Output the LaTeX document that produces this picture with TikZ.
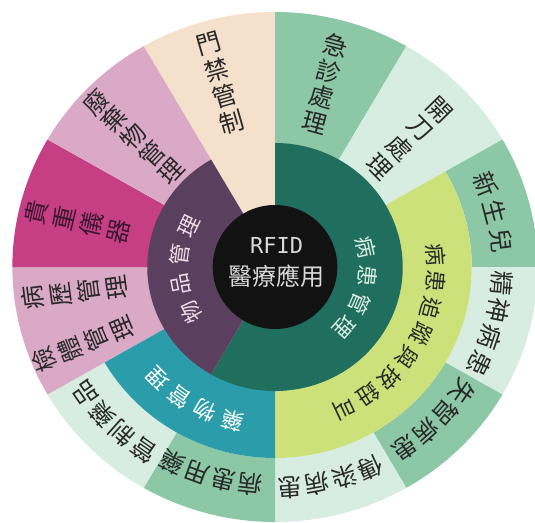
\documentclass[tikz,border=0pt]{standalone}
\usepackage{fontspec}
\newfontfamily\cjk{Noto Sans CJK TC}
\newfontfamily\monof{DejaVu Sans Mono}
\definecolor{cream}{RGB}{244,224,203}
\definecolor{midgreen}{RGB}{140,199,166}
\definecolor{mint}{RGB}{216,237,226}
\definecolor{pinkl}{RGB}{217,169,198}
\definecolor{magenta2}{RGB}{198,63,132}
\definecolor{purple2}{RGB}{91,63,95}
\definecolor{dgreen}{RGB}{31,110,94}
\definecolor{teal2}{RGB}{42,156,170}
\definecolor{yellow2}{RGB}{205,225,122}
\definecolor{core}{RGB}{18,18,18}
\definecolor{labeldark}{RGB}{40,40,40}
\definecolor{magtext}{RGB}{59,22,48}
\newcommand{\mywedge}[5]{\fill[#1] (#2:#4) -- (#2:#5) arc[start angle=#2, end angle=#3, radius=#5] -- (#3:#4) arc[start angle=#3, end angle=#2, radius=#4] -- cycle;}
% radial label: name, angle, start radius, step, style, chars
\newcommand{\radlabel}[6]{\foreach \c [count=\i] in {#6} {\node[#5, rotate=#2-90] (#1\i) at (#2:{#3-(\i-1)*#4}) {\c};}}
% tangential label: name, start angle, step, radius, style, chars
\newcommand{\tanlabel}[6]{\foreach \c [count=\i] in {#6} {\pgfmathsetmacro{\ang}{#2-(\i-1)*#3}\node[#5, rotate=\ang-90] (#1\i) at (\ang:#4) {\c};}}
\begin{document}
\begin{tikzpicture}[x=1pt,y=1pt,
  outl/.style={font=\cjk\fontsize{24.5}{24.5}\selectfont, text=labeldark, inner sep=0pt},
  magl/.style={font=\cjk\fontsize{24.5}{24.5}\selectfont, text=magtext, inner sep=0pt},
  yell/.style={font=\cjk\fontsize{22}{22}\selectfont, text=labeldark, inner sep=0pt},
  grnl/.style={font=\cjk\fontsize{21.5}{21.5}\selectfont, text=mint!90!white, inner sep=0pt},
  purl/.style={font=\cjk\fontsize{21.5}{21.5}\selectfont, text=pinkl!40!white, inner sep=0pt},
  teall/.style={font=\cjk\fontsize{22}{22}\selectfont, text=white, inner sep=0pt}]
\useasboundingbox (0,0) rectangle (535,-522);
\begin{scope}[shift={(275,-267)}, xscale=1.03]
% outer sectors
\mywedge{cream}{90}{120}{60}{255}
\mywedge{midgreen}{60}{90}{120}{255}
\mywedge{mint}{30}{60}{120}{255}
\mywedge{midgreen}{0}{30}{191}{255}
\mywedge{mint}{-30}{0}{191}{255}
\mywedge{midgreen}{-60}{-30}{191}{255}
\mywedge{mint}{-90}{-60}{191}{255}
\mywedge{midgreen}{-120}{-90}{191}{255}
\mywedge{mint}{-150}{-120}{191}{255}
\mywedge{pinkl}{180}{210}{120}{255}
\mywedge{magenta2}{150}{180}{120}{255}
\mywedge{pinkl}{120}{150}{120}{255}
% middle ring
\mywedge{yellow2}{-90}{30}{120}{191}
\mywedge{teal2}{-150}{-90}{120}{191}
% inner ring
\mywedge{dgreen}{-120}{90}{58}{124}
\mywedge{purple2}{120}{240}{58}{124}
% core
\fill[core] (0,0) ellipse [x radius=60.5, y radius=62];
\node[font=\monof\fontsize{22}{22}\selectfont, text=white!85!black, inner sep=0pt] (rfid) at (1.5,22) {RFID};
\node[font=\cjk\fontsize{24}{24}\selectfont, text=white!85!black, inner sep=0pt] (core) at (1.5,-9) {醫療應用};
% radial labels
\radlabel{a}{106}{232}{27}{outl}{門,禁,管,制}
\radlabel{b}{75}{229}{26.5}{outl}{急,診,處,理}
\radlabel{c}{44.5}{224}{27}{outl}{開,刀,處,理}
\radlabel{d}{136.5}{240}{25.2}{outl}{廢,棄,物,管,理}
\radlabel{e}{166.7}{238}{27.3}{magl}{貴,重,儀,器}
\radlabel{f}{187.5}{237}{27.3}{outl}{病,歷,管,理}
\radlabel{g}{202.5}{243}{27.7}{outl}{檢,體,管,理}
% tangential outer labels
\tanlabel{h}{22}{7.5}{221}{outl}{新,生,兒}
\tanlabel{k}{-4.2}{7.2}{221}{outl}{精,神,病,患}
\tanlabel{l}{-34.5}{6.9}{221}{outl}{失,智,病,患}
\tanlabel{m}{-65.3}{7}{221}{outl}{傳,染,病,患}
\tanlabel{n}{-96.3}{6.9}{219}{outl}{病,患,用,藥}
\tanlabel{o}{-124.8}{6.9}{223}{outl}{管,制,藥,品}
% middle ring labels
\tanlabel{p}{4.5}{9.87}{157}{yell}{病,患,追,蹤,與,按,鈕,叫}
\tanlabel{q}{-105}{10.2}{159}{teall}{藥,物,管,理}
% inner ring labels
\tanlabel{s}{12.7}{18.2}{90}{grnl}{病,患,管,理}
\tanlabel{t}{209}{18.3}{93}{purl}{物,品,管,理}
\end{scope}
\end{tikzpicture}
\end{document}
